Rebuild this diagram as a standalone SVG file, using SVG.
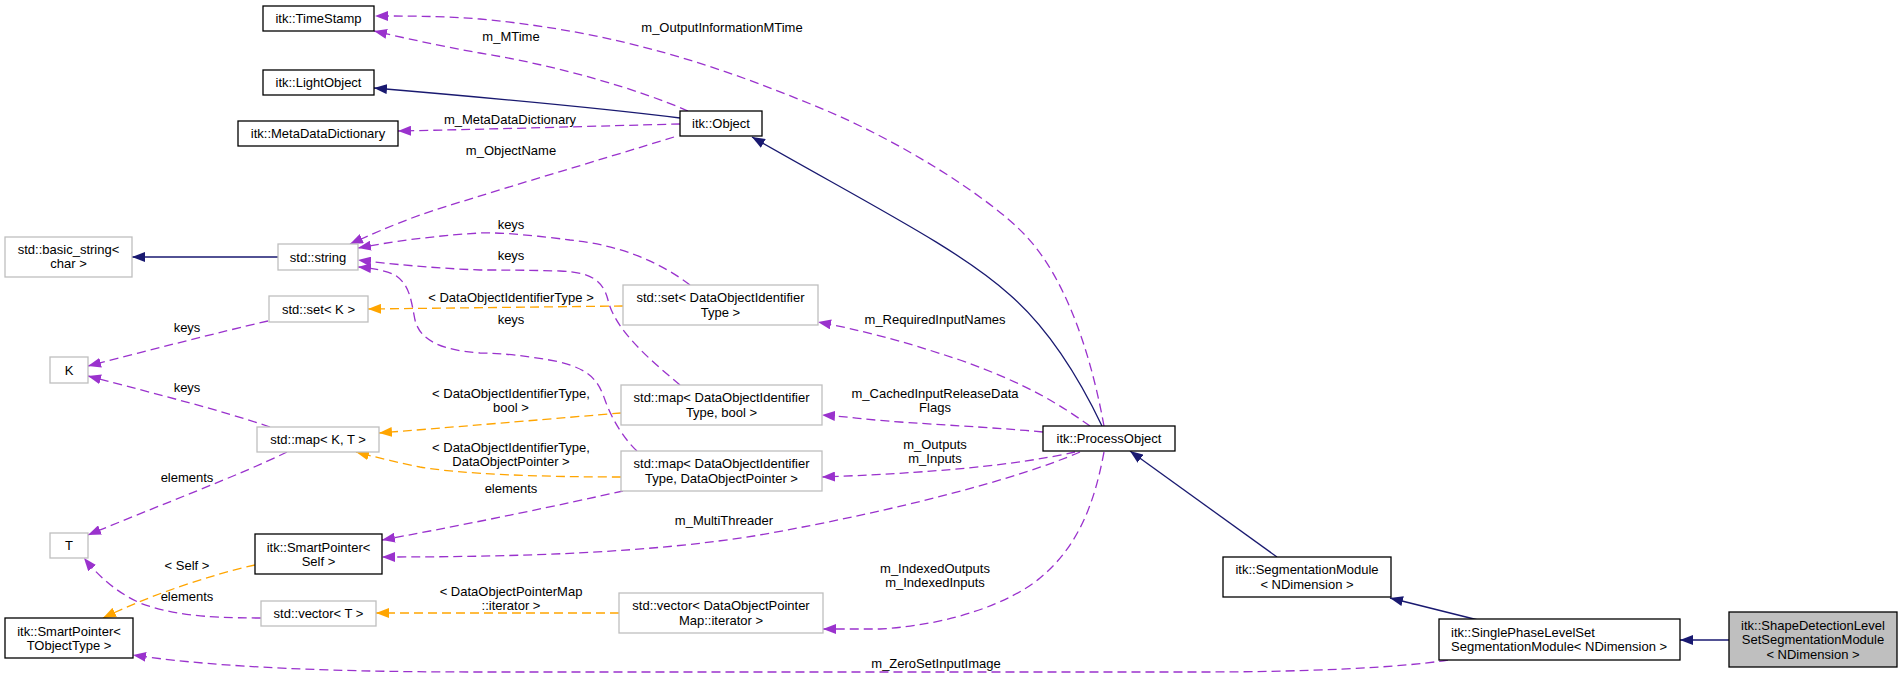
<svg xmlns="http://www.w3.org/2000/svg" width="1903" height="677" viewBox="0 0 1903 677">
<style>
text{font-family:"Liberation Sans",Arial,sans-serif;font-size:13px;fill:#000}
.n rect{fill:#fff;stroke:#000;stroke-width:1.3}
.g rect{fill:#fff;stroke:#bfbfbf;stroke-width:1.3}
.c text{text-anchor:middle}
.n text,.g text{text-anchor:middle}
.e{fill:none;stroke-width:1.3}
.inh{stroke:#191970;marker-end:url(#ai)}
.use{stroke:#9a32cd;stroke-dasharray:9,5;marker-end:url(#au)}
.tpl{stroke:#ffa500;stroke-dasharray:9,5;marker-end:url(#at)}
</style>
<defs>
<marker id="ai" markerUnits="userSpaceOnUse" viewBox="0 0 13 10" refX="13" refY="5" markerWidth="13" markerHeight="10" orient="auto"><path d="M0,0 L13,5 L0,10 z" fill="#191970"/></marker>
<marker id="au" markerUnits="userSpaceOnUse" viewBox="0 0 13 10" refX="13" refY="5" markerWidth="13" markerHeight="10" orient="auto"><path d="M0,0 L13,5 L0,10 z" fill="#9a32cd"/></marker>
<marker id="at" markerUnits="userSpaceOnUse" viewBox="0 0 13 10" refX="13" refY="5" markerWidth="13" markerHeight="10" orient="auto"><path d="M0,0 L13,5 L0,10 z" fill="#ffa500"/></marker>
</defs>
<rect width="1903" height="677" fill="#fff"/>
<g id="connectors" class="c">
<path class="e use" d="M1104,426 C1092,360 1068,280 1025,235 C990,198 900,140 813,105 C720,67 620,32 480,19 C440,16 410,16 375,16"/>
<text x="722" y="31.5">m_OutputInformationMTime</text>
<path class="e use" d="M688,111 C640,90 560,66 480,53 C440,46 400,37 374,31"/>
<text x="511" y="40.5">m_MTime</text>
<path class="e inh" d="M680,118 C600,108 480,97 374,88"/>
<path class="e use" d="M680,124 C600,126 500,129 398,131"/>
<text x="510" y="123.5">m_MetaDataDictionary</text>
<path class="e use" d="M674,137 C600,160 480,195 420,215 C390,226 370,235 350,244"/>
<text x="511" y="154.5">m_ObjectName</text>
<path class="e use" d="M690,285 C660,262 620,245 570,240 C540,236 500,232 480,233 C430,236 390,242 358,248"/>
<text x="511" y="228.5">keys</text>
<path class="e use" d="M680,385 C650,360 615,330 608,300 C603,280 590,272 560,271 C520,270 500,270 480,270 C430,268 390,264 358,260"/>
<text x="511" y="259.5">keys</text>
<path class="e use" d="M637,451 C625,440 612,420 605,400 C598,380 590,370 560,362 C530,356 500,353 480,353 C440,350 420,340 415,320 C411,300 410,285 395,275 C385,270 370,268 358,267"/>
<text x="511" y="323.5">keys</text>
<path class="e tpl" d="M623,306 L368,309"/>
<text x="511" y="301.5">&lt; DataObjectIdentifierType &gt;</text>
<path class="e tpl" d="M621,413 C560,418 480,425 379,433"/>
<text x="511" y="397.5">&lt; DataObjectIdentifierType,</text>
<text x="511" y="412">bool &gt;</text>
<path class="e tpl" d="M621,477 C540,477 460,474 420,467 C400,463 375,457 356,452"/>
<text x="511" y="451.5">&lt; DataObjectIdentifierType,</text>
<text x="511" y="465.5">DataObjectPointer &gt;</text>
<path class="e tpl" d="M619,613 L376,613"/>
<text x="511" y="595.5">&lt; DataObjectPointerMap</text>
<text x="511" y="609.5">::iterator &gt;</text>
<path class="e tpl" d="M255,565 C210,575 150,595 103,618"/>
<text x="187" y="569.5">&lt; Self &gt;</text>
<path class="e use" d="M268,321 C220,332 150,350 88,366"/>
<text x="187" y="331.5">keys</text>
<path class="e use" d="M270,427 C220,410 160,395 88,376"/>
<text x="187" y="391.5">keys</text>
<path class="e use" d="M287,452 C240,475 160,505 88,535"/>
<text x="187" y="481.5">elements</text>
<path class="e use" d="M261,618 C200,618 170,614 140,603 C118,593 100,578 84,558"/>
<text x="187" y="600.5">elements</text>
<path class="e use" d="M623,491 C560,505 480,522 382,540"/>
<text x="511" y="493">elements</text>
<path class="e use" d="M1080,452 C1020,478 900,510 760,535 C650,553 520,557 382,557"/>
<text x="724" y="524.5">m_MultiThreader</text>
<path class="e use" d="M1090,426 C1060,405 1030,385 960,360 C900,340 860,330 818,322"/>
<text x="935" y="323.5">m_RequiredInputNames</text>
<path class="e use" d="M1043,432 C1000,428 960,426 900,422 C870,420 850,417 822,415"/>
<text x="935" y="397.5">m_CachedInputReleaseData</text>
<text x="935" y="411.5">Flags</text>
<path class="e use" d="M1075,452 C1030,462 960,472 822,477"/>
<text x="935" y="448.5">m_Outputs</text>
<text x="935" y="463">m_Inputs</text>
<path class="e use" d="M1104,452 C1095,500 1080,545 1040,578 C1010,603 950,625 880,629 L823,629"/>
<text x="935" y="572.5">m_IndexedOutputs</text>
<text x="935" y="587">m_IndexedInputs</text>
<path class="e use" d="M1448,660 C1400,668 1300,672 1200,672 L480,672 C300,672 200,665 133,655"/>
<text x="936" y="668">m_ZeroSetInputImage</text>
<path class="e inh" d="M1102,426 C1080,380 1050,330 1010,295 C960,250 880,210 752,137"/>
<path class="e inh" d="M1277,557 L1130,451"/>
<path class="e inh" d="M1478,620 L1390,598"/>
<path class="e inh" d="M1729,640 L1680,640"/>
<path class="e inh" d="M278,257 L132,257"/>
</g>
<g id="timestamp" class="n"><rect x="263" y="6" width="111" height="25"/><text x="318.5" y="23">itk::TimeStamp</text></g>
<g id="lightobject" class="n"><rect x="263" y="70" width="111" height="25"/><text x="318.5" y="87">itk::LightObject</text></g>
<g id="metadatadictionary" class="n"><rect x="238" y="121" width="160" height="25"/><text x="318" y="138">itk::MetaDataDictionary</text></g>
<g id="object" class="n"><rect x="680" y="111" width="82" height="25"/><text x="721" y="128">itk::Object</text></g>
<g id="basic_string" class="g"><rect x="5" y="237" width="127" height="40"/><text x="68.5" y="253.5">std::basic_string&lt;</text><text x="68.5" y="267.5">char &gt;</text></g>
<g id="string" class="g"><rect x="278" y="244" width="80" height="26"/><text x="318" y="261.5">std::string</text></g>
<g id="set_k" class="g"><rect x="269" y="296" width="99" height="26"/><text x="318.5" y="313.5">std::set&lt; K &gt;</text></g>
<g id="k" class="g"><rect x="50" y="357" width="38" height="26"/><text x="69" y="374.5">K</text></g>
<g id="map_kt" class="g"><rect x="257" y="427" width="122" height="25"/><text x="318" y="444">std::map&lt; K, T &gt;</text></g>
<g id="t" class="g"><rect x="50" y="533" width="38" height="25"/><text x="69" y="550">T</text></g>
<g id="sp_self" class="n"><rect x="255" y="534" width="127" height="40"/><text x="318.5" y="551.5">itk::SmartPointer&lt;</text><text x="318.5" y="565.5">Self &gt;</text></g>
<g id="sp_tobject" class="n"><rect x="5" y="618" width="128" height="40"/><text x="69" y="636">itk::SmartPointer&lt;</text><text x="69" y="650">TObjectType &gt;</text></g>
<g id="vector_t" class="g"><rect x="261" y="601" width="115" height="25"/><text x="318.5" y="618">std::vector&lt; T &gt;</text></g>
<g id="set_doi" class="g"><rect x="623" y="285" width="195" height="40"/><text x="720.5" y="302">std::set&lt; DataObjectIdentifier</text><text x="720.5" y="316.5">Type &gt;</text></g>
<g id="map_bool" class="g"><rect x="621" y="385" width="201" height="40"/><text x="721.5" y="402">std::map&lt; DataObjectIdentifier</text><text x="721.5" y="416.5">Type, bool &gt;</text></g>
<g id="map_dop" class="g"><rect x="621" y="451" width="201" height="40"/><text x="721.5" y="468">std::map&lt; DataObjectIdentifier</text><text x="721.5" y="482.5">Type, DataObjectPointer &gt;</text></g>
<g id="vector_dop" class="g"><rect x="619" y="593" width="204" height="40"/><text x="721" y="610">std::vector&lt; DataObjectPointer</text><text x="721" y="624.5">Map::iterator &gt;</text></g>
<g id="processobject" class="n"><rect x="1043" y="426" width="132" height="25"/><text x="1109" y="443">itk::ProcessObject</text></g>
<g id="segmentationmodule" class="n"><rect x="1223" y="557" width="168" height="40"/><text x="1307" y="574">itk::SegmentationModule</text><text x="1307" y="588.5">&lt; NDimension &gt;</text></g>
<g id="singlephase" class="n"><rect x="1439" y="619" width="241" height="41"/><text x="1451" y="636.5" style="text-anchor:start">itk::SinglePhaseLevelSet</text><text x="1451" y="651" style="text-anchor:start">SegmentationModule&lt; NDimension &gt;</text></g>
<g id="shapedetection" class="n"><rect x="1729" y="612" width="168" height="55" style="fill:#bfbfbf"/><text x="1813" y="629.5">itk::ShapeDetectionLevel</text><text x="1813" y="644">SetSegmentationModule</text><text x="1813" y="658.5">&lt; NDimension &gt;</text></g>
</svg>
